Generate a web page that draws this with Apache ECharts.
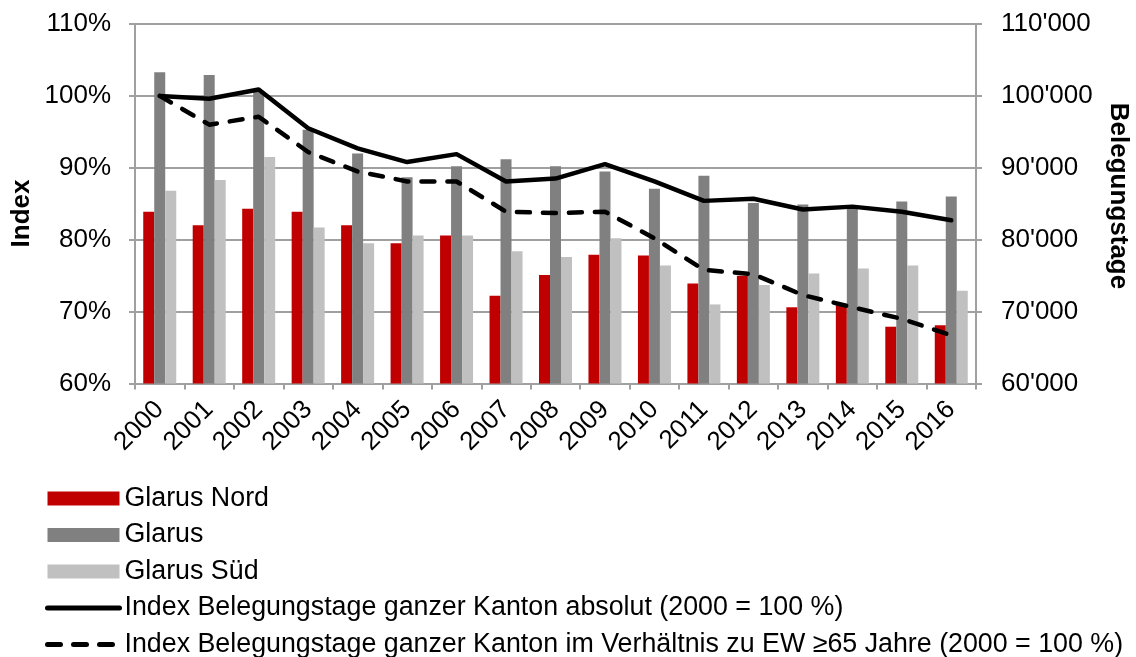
<!DOCTYPE html>
<html>
<head>
<meta charset="utf-8">
<title>Belegungstage Glarus</title>
<script src="https://cdn.jsdelivr.net/npm/echarts@6/dist/echarts.min.js"></script>
<style>
  html, body { margin: 0; padding: 0; background: #fff; }
  #chart { width: 1136px; height: 657px; }
</style>
</head>
<body>
<div id="chart"></div>
<script>
  // Jahre und Werte (Index in %, 2000 = 100)
  var years = ['2000', '2001', '2002', '2003', '2004', '2005', '2006', '2007', '2008',
    '2009', '2010', '2011', '2012', '2013', '2014', '2015', '2016']
  var glarusNord = [83.9, 82.0, 84.3, 83.9, 82.0, 79.5, 80.6, 72.2, 75.1, 77.9, 77.8, 73.9, 75.0, 70.6, 70.9, 67.9, 68.1]
  var glarus = [103.3, 102.9, 100.7, 95.3, 92.0, 88.7, 90.2, 91.2, 90.2, 89.5, 87.1, 88.9, 85.1, 84.9, 84.4, 85.3, 86.0]
  var glarusSued = [86.8, 88.3, 91.5, 81.7, 79.5, 80.6, 80.6, 78.4, 77.6, 80.2, 76.4, 71.0, 73.7, 75.3, 76.0, 76.4, 72.9]
  var indexAbsolut = [100.0, 99.6, 100.9, 95.5, 92.7, 90.8, 91.9, 88.1, 88.5, 90.5, 88.1, 85.4, 85.7, 84.2, 84.6, 83.9, 82.7]
  var indexEw65 = [100.0, 96.0, 97.1, 92.2, 89.5, 88.1, 88.1, 83.9, 83.7, 83.9, 80.2, 75.8, 75.2, 72.3, 70.6, 69.0, 66.7]

  var nameAbs = 'Index Belegungstage ganzer Kanton absolut (2000 = 100 %)'
  var nameEw = 'Index Belegungstage ganzer Kanton im Verhältnis zu EW ≥65 Jahre (2000 = 100 %)'

  var font = '"Liberation Sans", Arial, sans-serif'
  var gray = '#a0a0a0'
  var dash = [13, 13]

  var myecharts = echarts.init(document.getElementById('chart'))
  var option = {
    animation: false,
    textStyle: { fontFamily: font },
    grid: { left: 135, right: 160, top: 24, bottom: 273.5 },
    legend: {
      orient: 'vertical',
      left: 45,
      top: 485,
      height: 220,
      padding: 0,
      itemWidth: 72,
      itemHeight: 14,
      itemGap: 9.5,
      itemTextGap: 7,
      textStyle: { fontSize: 26.8, color: '#000', fontFamily: font },
      data: [
        { name: 'Glarus Nord', icon: 'rect' },
        { name: 'Glarus', icon: 'rect' },
        { name: 'Glarus Süd', icon: 'rect' },
        { name: nameAbs, itemStyle: { opacity: 0 }, lineStyle: { width: 5, cap: 'round' } },
        { name: nameEw, itemStyle: { opacity: 0 }, lineStyle: { width: 5, type: dash, cap: 'round' } }
      ]
    },
    graphic: [
      {
        type: 'text', x: 22, y: 213.5, rotation: Math.PI / 2,
        style: { text: 'Index', font: 'bold 26px ' + font, fill: '#000', align: 'center', verticalAlign: 'middle' }
      },
      {
        type: 'text', x: 1118, y: 196, rotation: -Math.PI / 2,
        style: { text: 'Belegungstage', font: 'bold 26px ' + font, fill: '#000', align: 'center', verticalAlign: 'middle' }
      }
    ],
    xAxis: {
      type: 'category',
      data: years,
      axisLine: { lineStyle: { color: gray, width: 2 } },
      axisTick: { show: true, length: 6, lineStyle: { color: gray, width: 2 } },
      axisLabel: { rotate: 45, margin: 22, fontSize: 26, color: '#000', fontFamily: font }
    },
    yAxis: [
      {
        type: 'value',
        min: 60,
        max: 110,
        interval: 10,
        axisLine: { show: true, lineStyle: { color: gray, width: 2 } },
        axisTick: { show: true, length: 6, lineStyle: { color: gray, width: 2 } },
        splitLine: { lineStyle: { color: gray, width: 2 } },
        axisLabel: { formatter: '{value}%', margin: 24, fontSize: 26, color: '#000', fontFamily: font }
      },
      {
        type: 'value',
        min: 60000,
        max: 110000,
        interval: 10000,
        position: 'right',
        axisLine: { show: true, lineStyle: { color: gray, width: 2 } },
        axisTick: { show: true, length: 6, lineStyle: { color: gray, width: 2 } },
        splitLine: { show: false },
        axisLabel: {
          margin: 25, fontSize: 26, color: '#000', fontFamily: font,
          formatter: function (v) {
            return Math.floor(v / 1000) + "'" + '000'
          }
        }
      }
    ],
    series: [
      { name: 'Glarus Nord', type: 'bar', data: glarusNord, barWidth: 11, barGap: '0%', itemStyle: { color: '#c00000' } },
      { name: 'Glarus', type: 'bar', data: glarus, barWidth: 11, barGap: '0%', itemStyle: { color: '#808080' } },
      { name: 'Glarus Süd', type: 'bar', data: glarusSued, barWidth: 11, barGap: '0%', itemStyle: { color: '#c0c0c0' } },
      {
        name: nameAbs,
        type: 'line',
        data: indexAbsolut,
        symbol: 'none',
        z: 5,
        itemStyle: { color: '#000' },
        lineStyle: { color: '#000', width: 4.5, cap: 'round', join: 'round' }
      },
      {
        name: nameEw,
        type: 'line',
        data: indexEw65,
        symbol: 'none',
        z: 5,
        itemStyle: { color: '#000' },
        lineStyle: { color: '#000', width: 4.5, type: dash, cap: 'round', join: 'round' }
      }
    ]
  }
  myecharts.setOption(option)
</script>
</body>
</html>
